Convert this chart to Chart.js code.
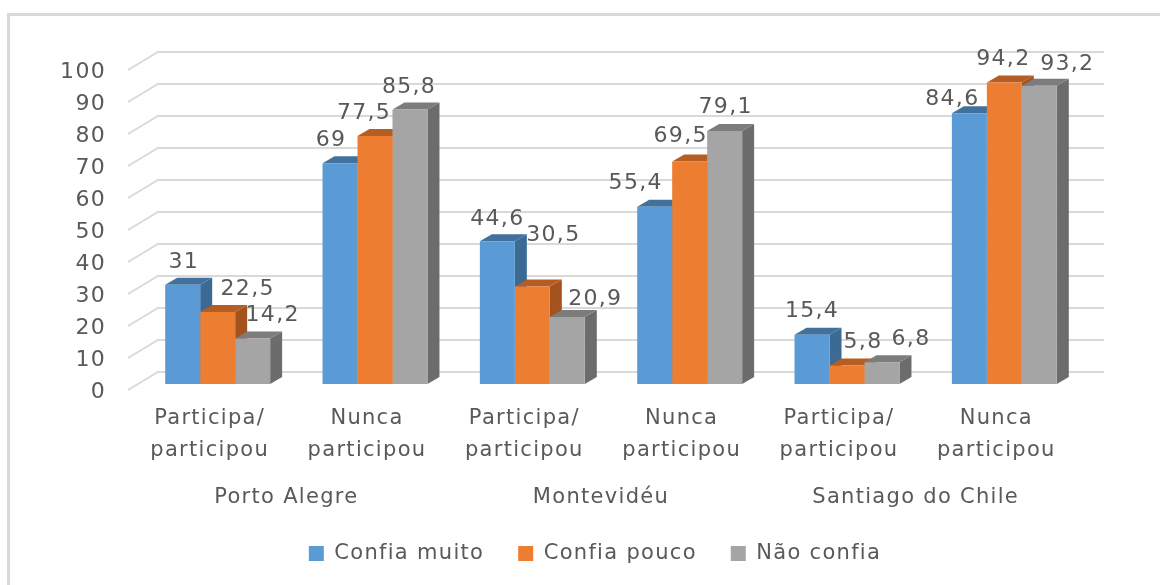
<!DOCTYPE html>
<html>
<head>
<meta charset="utf-8">
<script src="https://cdn.jsdelivr.net/npm/chart.js@4"></script>
<style>
html,body{margin:0;padding:0;background:#fff;overflow:hidden}
canvas{display:block;filter:blur(0.4px)}
</style>
</head>
<body>
<canvas id="c" width="1160" height="585"></canvas>
<script>
const barLabels = [["Participa/","participou"],["Nunca","participou"],["Participa/","participou"],["Nunca","participou"],["Participa/","participou"],["Nunca","participou"]];
const cityLabels = ["Porto Alegre","Montevidéu","Santiago do Chile"];
const yTicks = [0,10,20,30,40,50,60,70,80,90,100];
const seriesNames = ["Confia muito","Confia pouco","Não confia"];
const confiaMuito = [31,69,44.6,55.4,15.4,84.6];
const confiaPouco = [22.5,77.5,30.5,69.5,5.8,94.2];
const naoConfia = [14.2,85.8,20.9,79.1,6.8,93.2];

// styling
const TEXT = "#595959", FONT = "'DejaVu Sans'", FS = 21, NUM_FS = 22, SPACING = "1.3px";
const fronts = ["#5B9BD5","#ED7D31","#A5A5A5"];
const sides = ["#3B6A94","#A5531E","#6C6C6C"];
const tops = ["#41719C","#B55D23","#7C7C7C"];
const DX = 12, DY = 7;
// label nudges from bar top centre, per series / per bar
const nudgeX = [[1,-9,0,-19,0,-17],[30,-11,21,-9,16,-1],[20,-1,28,1,29,28]];
const nudgeY = [[-23,-23,-22,-23,-23,-14],[-23,-23,-51,-25,-23,-23],[-23,-22,-18,-24,-23,-21]];

const threeD = {
  id:"threeD",
  beforeLayout(chart){
    chart.ctx.letterSpacing = SPACING;
    const l = chart.legend;
    if(l && !l._wrapped){
      const f = l.fit.bind(l);
      l.fit = function(){ f(); l.height = 71; };
      l._wrapped = true;
    }
  },
  afterLayout(chart){
    const l = chart.legend;
    l.left = 30; l.right = 1160; l.top = 509; l.bottom = 580;
  },
  beforeDraw(chart){
    const c = chart.ctx;
    c.letterSpacing = SPACING;
    // frame
    c.save();
    c.strokeStyle = "#D9D9D9"; c.lineWidth = 3;
    c.beginPath(); c.moveTo(8.5,585); c.lineTo(8.5,14.5); c.lineTo(1160,14.5); c.stroke();
    c.restore();
  },
  beforeDatasetsDraw(chart){
    const c = chart.ctx, y = chart.scales.y, a = chart.chartArea;
    c.save();
    c.strokeStyle = "#D9D9D9"; c.lineWidth = 2;
    yTicks.forEach(v=>{
      const p = y.getPixelForValue(v);
      c.beginPath();
      c.moveTo(a.left-11, p+6);
      c.lineTo(a.left+19, p-12);
      c.lineTo(a.right+21, p-12);
      c.stroke();
    });
    // side and top faces, series by series; the fronts are drawn over them afterwards
    chart.data.datasets.forEach((d,i)=>{
      chart.getDatasetMeta(i).data.forEach(b=>{
        const l = b.x-b.width/2, r = b.x+b.width/2, t = b.y, bt = b.base;
        c.fillStyle = sides[i];
        c.beginPath();
        c.moveTo(r,t); c.lineTo(r+DX,t-DY); c.lineTo(r+DX,bt-DY); c.lineTo(r,bt); c.closePath(); c.fill();
        c.fillStyle = tops[i];
        c.beginPath();
        c.moveTo(l,t); c.lineTo(l+DX,t-DY); c.lineTo(r+DX,t-DY); c.lineTo(r,t); c.closePath(); c.fill();
      });
    });
    c.restore();
  },
  afterDatasetsDraw(chart){
    const c = chart.ctx;
    c.save();
    c.fillStyle = TEXT; c.font = NUM_FS+"px "+FONT; c.textAlign="center"; c.textBaseline="middle";
    chart.data.datasets.forEach((d,i)=>{
      chart.getDatasetMeta(i).data.forEach((b,j)=>{
        c.fillText(String(d.data[j]).replace(".",","), b.x+nudgeX[i][j], b.y+nudgeY[i][j]);
      });
    });
    c.restore();
  }
};

new Chart(document.getElementById("c"),{
  type:"bar",
  data:{
    labels:barLabels,
    datasets:[
      {label:seriesNames[0],data:confiaMuito,backgroundColor:fronts[0]},
      {label:seriesNames[1],data:confiaPouco,backgroundColor:fronts[1]},
      {label:seriesNames[2],data:naoConfia,backgroundColor:fronts[2]}
    ]
  },
  options:{
    responsive:false,
    animation:false,
    events:[],
    layout:{padding:{left:0,right:77,top:64,bottom:0}},
    datasets:{bar:{categoryPercentage:0.667,barPercentage:1,borderWidth:0}},
    scales:{
      y:{
        min:0,max:100,
        grid:{display:false},border:{display:false},
        ticks:{stepSize:10,color:TEXT,font:{family:FONT,size:NUM_FS},padding:25,labelOffset:8},
        afterFit(s){s.width=139;}
      },
      x:{
        grid:{display:false,drawTicks:false},border:{display:false},
        ticks:{color:TEXT,font:{family:FONT,size:FS,lineHeight:1.52},padding:19,labelOffset:-8,maxRotation:0,minRotation:0,autoSkip:false},
        afterFit(s){s.height=83;}
      },
      x2:{
        type:"category",labels:cityLabels,position:"bottom",offset:true,
        grid:{display:false,drawTicks:false},border:{display:false},
        ticks:{color:TEXT,font:{family:FONT,size:FS,lineHeight:1.52},padding:15,labelOffset:-10,maxRotation:0,minRotation:0,autoSkip:false},
        afterFit(s){s.height=47;}
      }
    },
    plugins:{
      tooltip:{enabled:false},
      legend:{
        position:"bottom",
        labels:{color:TEXT,font:{family:FONT,size:FS},boxWidth:15,boxHeight:15,padding:34}
      }
    }
  },
  plugins:[threeD]
});
</script>
</body>
</html>
